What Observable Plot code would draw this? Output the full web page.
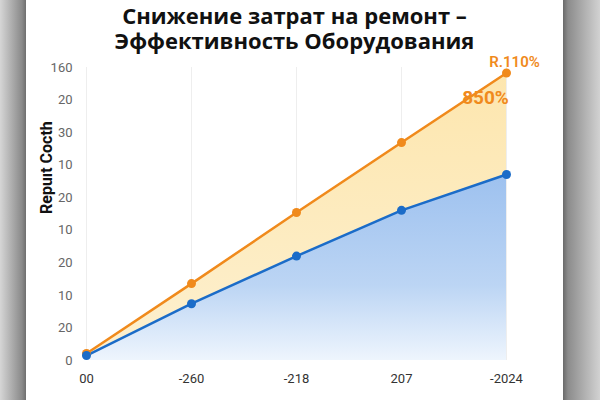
<!DOCTYPE html>
<html>
<head>
<meta charset="utf-8">
<script src="https://cdn.jsdelivr.net/npm/d3@7"></script>
<script src="https://cdn.jsdelivr.net/npm/@observablehq/plot@0.6"></script>
<style>
  html, body { margin: 0; padding: 0; }
  body {
    width: 600px; height: 400px; overflow: hidden; position: relative;
    background: linear-gradient(to right, #d6d6d6 0px, #8a8a8a 22px, #6f6f6f 26px, #ffffff 26px, #ffffff 563px, #6a6a6a 563px, #8c8c8c 568px, #d2d2d2 600px);
  }
  .tline {
    position: absolute; left: 26px; width: 537px;
    text-align: center; font-family: "Open Sans", sans-serif; font-weight: 700;
    font-size: 22px; line-height: 24px; height: 24px; color: #111; white-space: nowrap;
  }
  #chart { position: absolute; left: 0; top: 40px; }
  #chart svg text { font-family: Roboto, "Liberation Sans", sans-serif; }
</style>
</head>
<body>
<div class="tline" style="top:3px">Снижение затрат на ремонт –</div>
<div class="tline" style="top:28px">Эффективность Оборудования</div>
<div id="chart"></div>
<script>
const categories = ["00", "-260", "-218", "207", "-2024"];
const orangeValues = [3.8, 42, 80.8, 119, 157];
const blueValues = [2.7, 31, 57, 82, 101.6];
const yTickLabels = ["0", "20", "10", "20", "10", "20", "10", "30", "20", "160"];
const yLabel = "Repuıt Cocth";
const annotTop = "R.110%";
const annotMid = "850%";

const rows = categories.map((c, i) => ({x: c, orange: orangeValues[i], blue: blueValues[i]}));
const yTicks = yTickLabels.map((_, i) => i * 160 / 9);
const last = rows[rows.length - 1];

const ORANGE = "#f08a1c";
const BLUE = "#1b6cc8";

const svg = Plot.plot({
  width: 600,
  height: 360,
  marginLeft: 85,
  marginRight: 93,
  marginTop: 27,
  marginBottom: 40,
  style: {fontFamily: "Roboto, 'Liberation Sans', sans-serif", fontSize: "13px", background: "transparent", overflow: "visible"},
  x: {type: "point", domain: categories, padding: 0},
  y: {domain: [0, 160], ticks: yTicks},
  marks: [
    Plot.gridY(yTicks, {stroke: "#e6e6e6", strokeOpacity: 1, x1: 80, x2: 508}),
    Plot.gridX(categories, {stroke: "#eeeeee", strokeOpacity: 1}),
    Plot.areaY(rows, {x: "x", y1: "blue", y2: "orange", fill: "url(#yellowGrad)"}),
    Plot.areaY(rows, {x: "x", y1: 0, y2: "blue", fill: "url(#blueGrad)"}),
    Plot.line(rows, {x: "x", y: "orange", stroke: ORANGE, strokeWidth: 2.5}),
    Plot.line(rows, {x: "x", y: "blue", stroke: BLUE, strokeWidth: 2.5}),
    Plot.dot(rows, {x: "x", y: "orange", r: 4.5, fill: ORANGE}),
    Plot.dot(rows, {x: "x", y: "blue", r: 4.5, fill: BLUE}),
    Plot.axisY(yTicks, {tickSize: 0, tickPadding: 13, tickFormat: (d, i) => yTickLabels[i], fill: "#666", fontSize: 13, label: null}),
    Plot.axisX(categories, {tickSize: 0, tickPadding: 13, fill: "#333", fontSize: 13, label: null}),
    Plot.text([yLabel], {frameAnchor: "left", dx: -39, rotate: -90, fontWeight: "bold", fontSize: 16, fill: "#111"}),
    Plot.text([last], {x: "x", y: "orange", text: () => annotTop, dx: 8, dy: -11, fill: ORANGE, fontSize: 15, fontWeight: 600}),
    Plot.text([last], {x: "x", y: "orange", text: () => annotMid, dx: -21, dy: 25, fill: ORANGE, fontSize: 19, fontWeight: "bold"})
  ]
});

const defs = d3.select(svg).insert("defs", ":first-child");
const bg = defs.append("linearGradient").attr("id", "blueGrad").attr("x1", 0).attr("y1", 0).attr("x2", 0).attr("y2", 1);
bg.append("stop").attr("offset", "0%").attr("stop-color", "#9dc1ef");
bg.append("stop").attr("offset", "60%").attr("stop-color", "#bcd5f4");
bg.append("stop").attr("offset", "100%").attr("stop-color", "#eef5fd");
const yg = defs.append("linearGradient").attr("id", "yellowGrad").attr("x1", 0).attr("y1", 0).attr("x2", 0).attr("y2", 1);
yg.append("stop").attr("offset", "0%").attr("stop-color", "#fde6ae");
yg.append("stop").attr("offset", "100%").attr("stop-color", "#fdf0cf");

document.getElementById("chart").appendChild(svg);
</script>
</body>
</html>
